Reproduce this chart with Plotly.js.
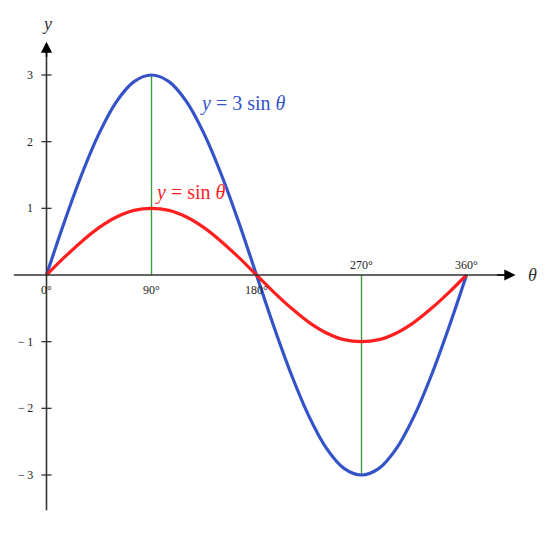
<!DOCTYPE html>
<html>
<head>
<meta charset="utf-8">
<script src="https://cdn.plot.ly/plotly-3.0.1.min.js"></script>
<style>html,body{margin:0;padding:0;background:#fff;}#chart{width:555px;height:544px;}</style>
</head>
<body>
<div id="chart"></div>
<script>
// Data (degrees, values every 15°)
const theta = [0,15,30,45,60,75,90,105,120,135,150,165,180,195,210,225,240,255,270,285,300,315,330,345,360];
const ySin  = [0,0.26,0.5,0.71,0.87,0.97,1,0.97,0.87,0.71,0.5,0.26,0,-0.26,-0.5,-0.71,-0.87,-0.97,-1,-0.97,-0.87,-0.71,-0.5,-0.26,0];
const y3Sin = [0,0.78,1.5,2.12,2.6,2.9,3,2.9,2.6,2.12,1.5,0.78,0,-0.78,-1.5,-2.12,-2.6,-2.9,-3,-2.9,-2.6,-2.12,-1.5,-0.78,0];
const yTicks = [3,2,1,-1,-2,-3];
const yTickLabels = ['3','2','1','\u2212\u20091','\u2212\u20092','\u2212\u20093'];
const xTicks = [0,90,180,270,360];
const xTickLabels = ['0°','90°','180°','270°','360°'];
const xTickAbove = [false,false,false,true,true];
const dropLines = [[90,3],[270,-3]];

const serif = '"Liberation Serif", "DejaVu Serif", serif';
const axisColor = '#333333';
const blue = '#3453c8';
const red = '#ff1f1f';
const green = '#3f9c3f';

const pxPerDeg = 420/360, pxPerUnit = 200/3;
const x0px = 46.5, y0px = 275;
const xRange = [-x0px/pxPerDeg, (555-x0px)/pxPerDeg];
const yRange = [-(544-y0px)/pxPerUnit, y0px/pxPerUnit];

const shapes = [];
// x-axis line
shapes.push({type:'line', xref:'x', yref:'y', x0:-28, x1:395, y0:0, y1:0, line:{color:axisColor, width:1.6}});
// y-axis line
shapes.push({type:'line', xref:'x', yref:'y', x0:0, x1:0, y0:-3.53, y1:3.42, line:{color:axisColor, width:1.6}});
// y ticks
yTicks.forEach(v => shapes.push({type:'line', xref:'x', yref:'y', x0:-4.3, x1:4.3, y0:v, y1:v, line:{color:axisColor, width:1.3}}));
// green drop lines
dropLines.forEach(d => shapes.push({type:'line', xref:'x', yref:'y', x0:d[0], x1:d[0], y0:0, y1:d[1], line:{color:green, width:1.4}, layer:'below'}));

const annotations = [];
// arrowheads
annotations.push({x:402, y:0, ax:385, ay:0, xref:'x', yref:'y', axref:'x', ayref:'y', text:'', showarrow:true, arrowhead:2, arrowsize:1.4, arrowwidth:1.6, arrowcolor:'#000'});
annotations.push({x:0, y:3.5, ax:0, ay:3.25, xref:'x', yref:'y', axref:'x', ayref:'y', text:'', showarrow:true, arrowhead:2, arrowsize:1.4, arrowwidth:1.6, arrowcolor:'#000'});
// y tick labels
yTicks.forEach((v,i) => annotations.push({x:0, y:v, xref:'x', yref:'y', text:yTickLabels[i], showarrow:false, xanchor:'right', yanchor:'middle', xshift:-12, font:{family:serif, size:12, color:'#222'}}));
// x tick labels
xTicks.forEach((v,i) => annotations.push({x:v, y:0, xref:'x', yref:'y', text:xTickLabels[i], showarrow:false, xanchor:'center', yanchor:xTickAbove[i]?'bottom':'top', yshift:xTickAbove[i]?1:-6, font:{family:serif, size:12, color:'#222'}}));
// axis labels
annotations.push({x:0, y:3.5, xref:'x', yref:'y', text:'<i>y</i>', showarrow:false, yanchor:'bottom', yshift:6, font:{family:serif, size:18, color:'#333'}});
annotations.push({x:402, y:0, xref:'x', yref:'y', text:'<i>θ</i>', showarrow:false, xanchor:'left', yanchor:'middle', xshift:10, font:{family:serif, size:18, color:'#333'}});
// curve labels
annotations.push({x:129.5, y:2.58, xref:'x', yref:'y', text:'<i>y</i> = 3 sin <i>θ</i>', showarrow:false, xanchor:'left', yanchor:'middle', font:{family:serif, size:20, color:blue}});
annotations.push({x:91, y:1.24, xref:'x', yref:'y', text:'<i>y</i> = sin <i>θ</i>', showarrow:false, xanchor:'left', yanchor:'middle', font:{family:serif, size:20, color:red}});

const traces = [
  {x:theta, y:y3Sin, mode:'lines', line:{color:blue, width:3.2, shape:'spline'}, hoverinfo:'skip'},
  {x:theta, y:ySin, mode:'lines', line:{color:red, width:3.2, shape:'spline'}, hoverinfo:'skip'}
];

const layout = {
  width:555, height:544,
  margin:{l:0, r:0, t:0, b:0},
  paper_bgcolor:'#fff', plot_bgcolor:'#fff',
  showlegend:false,
  xaxis:{range:xRange, visible:false, fixedrange:true},
  yaxis:{range:yRange, visible:false, fixedrange:true},
  shapes:shapes, annotations:annotations
};
Plotly.newPlot('chart', traces, layout, {staticPlot:true, displayModeBar:false});
</script>
</body>
</html>
